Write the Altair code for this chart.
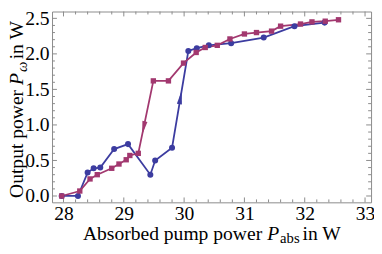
import math
import altair as alt
import pandas as pd

# ---- data ----
blue_x = [27.97, 28.24, 28.40, 28.50, 28.61, 28.84, 29.07, 29.44, 29.52, 29.80,
          30.07, 30.21, 30.41, 30.78, 31.32, 31.83, 32.33]
blue_y = [0.00, 0.00, 0.33, 0.39, 0.40, 0.66, 0.73, 0.30, 0.50, 0.68,
          2.04, 2.08, 2.12, 2.15, 2.23, 2.39, 2.44]

mag_x = [27.97, 28.27, 28.44, 28.56, 28.80, 28.92, 29.04, 29.10, 29.24, 29.49,
         29.74, 29.99, 30.20, 30.35, 30.55, 30.76, 31.00, 31.20, 31.45, 31.60,
         31.93, 32.12, 32.34, 32.56]
mag_y = [0.00, 0.07, 0.24, 0.30, 0.39, 0.45, 0.51, 0.57, 0.60, 1.62,
         1.62, 1.87, 2.02, 2.09, 2.12, 2.21, 2.28, 2.30, 2.32, 2.39,
         2.42, 2.45, 2.46, 2.48]

x_major = [28, 29, 30, 31, 32, 33]
x_minor = [28.2, 28.4, 28.6, 28.8, 29.2, 29.4, 29.6, 29.8, 30.2, 30.4, 30.6, 30.8,
           31.2, 31.4, 31.6, 31.8, 32.2, 32.4, 32.6, 32.8]
y_major = [0.0, 0.5, 1.0, 1.5, 2.0, 2.5]
y_minor = [0.1, 0.2, 0.3, 0.4, 0.6, 0.7, 0.8, 0.9, 1.1, 1.2, 1.3, 1.4,
           1.6, 1.7, 1.8, 1.9, 2.1, 2.2, 2.3, 2.4]

# arrows: (series, index from, index to, fraction along segment)
arrows = [("mag", 9, 8, 0.65), ("blue", 9, 10, 0.52)]

# ---- layout / style ----
W, H = 326, 195
XDOM = [27.81, 33.1]
YDOM = [-0.0895, 2.596]
BLUE = "#3c3ca0"
MAG = "#a2386f"
FRAME = "#8a8a8a"
FONT = "Liberation Serif"
kx = W / (XDOM[1] - XDOM[0])
ky = H / (YDOM[1] - YDOM[0])

xs = alt.Scale(domain=XDOM, nice=False, zero=False)
ys = alt.Scale(domain=YDOM, nice=False, zero=False)

blue_df = pd.DataFrame({"x": blue_x, "y": blue_y})
mag_df = pd.DataFrame({"x": mag_x, "y": mag_y})

xaxis = alt.Axis(values=x_major, format="d", title=None, ticks=False, domain=False,
                 grid=False, labelFont=FONT, labelFontSize=20, labelColor="black",
                 labelPadding=2)
yaxis = alt.Axis(values=y_major, format=".1f", title=None, ticks=False, domain=False,
                 grid=False, labelFont=FONT, labelFontSize=20, labelColor="black",
                 labelPadding=3)

def X(f):
    return alt.X(f, scale=xs, axis=xaxis)

def Y(f):
    return alt.Y(f, scale=ys, axis=yaxis)

blue_line = alt.Chart(blue_df).mark_line(color=BLUE, strokeWidth=1.8).encode(
    x=X("x:Q"), y=Y("y:Q"))
blue_pts = alt.Chart(blue_df).mark_point(shape="circle", filled=True, color=BLUE,
                                         size=38, opacity=1).encode(x=X("x:Q"), y=Y("y:Q"))
mag_line = alt.Chart(mag_df).mark_line(color=MAG, strokeWidth=1.8).encode(
    x=X("x:Q"), y=Y("y:Q"))
mag_pts = alt.Chart(mag_df).mark_point(shape="square", filled=True, color=MAG,
                                       size=30, opacity=1).encode(x=X("x:Q"), y=Y("y:Q"))

# arrow heads placed along data segments
series = {"blue": (blue_x, blue_y, BLUE), "mag": (mag_x, mag_y, MAG)}
arrow_layers = []
for name, i0, i1, t in arrows:
    sx, sy, col = series[name]
    ax = sx[i0] + t * (sx[i1] - sx[i0])
    ay = sy[i0] + t * (sy[i1] - sy[i0])
    dxp = (sx[i1] - sx[i0]) * kx
    dyp = -(sy[i1] - sy[i0]) * ky
    ang = math.degrees(math.atan2(dxp, -dyp)) % 360
    adf = pd.DataFrame({"x": [ax], "y": [ay]})
    arrow_layers.append(
        alt.Chart(adf).mark_point(shape="M0,-1L0.38,1L-0.38,1Z", filled=True,
                                  color=col, size=190, opacity=1, angle=ang).encode(
            x=X("x:Q"), y=Y("y:Q")))

# inward frame ticks
def xticks(vals, length):
    d = pd.DataFrame({"v": vals})
    bot = alt.Chart(d).mark_rule(color=FRAME, strokeWidth=1).encode(
        x=X("v:Q"), y=alt.value(H), y2=alt.value(H - length))
    top = alt.Chart(d).mark_rule(color=FRAME, strokeWidth=1).encode(
        x=X("v:Q"), y=alt.value(0), y2=alt.value(length))
    return [bot, top]

def yticks(vals, length):
    d = pd.DataFrame({"v": vals})
    left = alt.Chart(d).mark_rule(color=FRAME, strokeWidth=1).encode(
        y=Y("v:Q"), x=alt.value(0), x2=alt.value(length))
    right = alt.Chart(d).mark_rule(color=FRAME, strokeWidth=1).encode(
        y=Y("v:Q"), x=alt.value(W), x2=alt.value(W - length))
    return [left, right]

tick_layers = xticks(x_major, 5) + xticks(x_minor, 3) + yticks(y_major, 5) + yticks(y_minor, 3)

# titles with italic symbol and subscript, built from text pieces
WID = {" ": 250, "A": 722, "O": 722, "W": 944, "P": 611, "a": 444, "b": 500, "d": 500,
       "e": 444, "i": 278, "m": 778, "n": 500, "o": 500, "p": 500, "r": 333, "s": 389,
       "t": 278, "u": 500, "w": 722, "ω": 660}

def tw(s, size):
    return sum(WID.get(c, 500) for c in s) * size / 1000.0

TS = 20
SUB = 15
# (text, size, style, baseline shift, extra gap after)
x_pieces = [("Absorbed pump power ", TS, "normal", 0, 0), ("P", TS, "italic", 0, 1),
            ("abs", SUB, "normal", 4, 3), (" in W", TS, "normal", 0, 0)]
y_pieces = [("Output power ", TS, "normal", 0, 0), ("P", TS, "italic", 0, 1),
            ("ω", SUB, "italic", 4, 3), (" in W", TS, "normal", 0, 0)]

title_layers = []
one = pd.DataFrame({"k": [0]})
total = sum(tw(s, z) + g for s, z, _, _, g in x_pieces)
cx = W / 2 + 3 - total / 2
for s, z, st, dy, g in x_pieces:
    title_layers.append(alt.Chart(one).mark_text(
        text=s, font=FONT, fontSize=z, fontStyle=st, align="left", baseline="alphabetic",
        color="black").encode(x=alt.value(cx), y=alt.value(H + 38 + dy)))
    cx += tw(s, z) + g

total = sum(tw(s, z) + g for s, z, _, _, g in y_pieces)
cy = H / 2 + total / 2
for s, z, st, dy, g in y_pieces:
    title_layers.append(alt.Chart(one).mark_text(
        text=s, font=FONT, fontSize=z, fontStyle=st, align="left", baseline="alphabetic",
        angle=270, color="black").encode(x=alt.value(-29.5 + dy), y=alt.value(cy)))
    cy -= tw(s, z) + g

chart = alt.layer(
    *tick_layers, blue_line, mag_line, blue_pts, mag_pts, *arrow_layers, *title_layers
).properties(
    width=W, height=H,
    autosize=alt.AutoSizeParams(type="none"),
    padding={"left": 45, "top": 1, "right": 3, "bottom": 42},
    background="white",
).configure_view(stroke=FRAME, strokeWidth=1).configure_axis(
    labelFont=FONT, labelFontSize=20, labelColor="black")

chart.save("out.html", embed_options={"renderer": "svg", "actions": False})
